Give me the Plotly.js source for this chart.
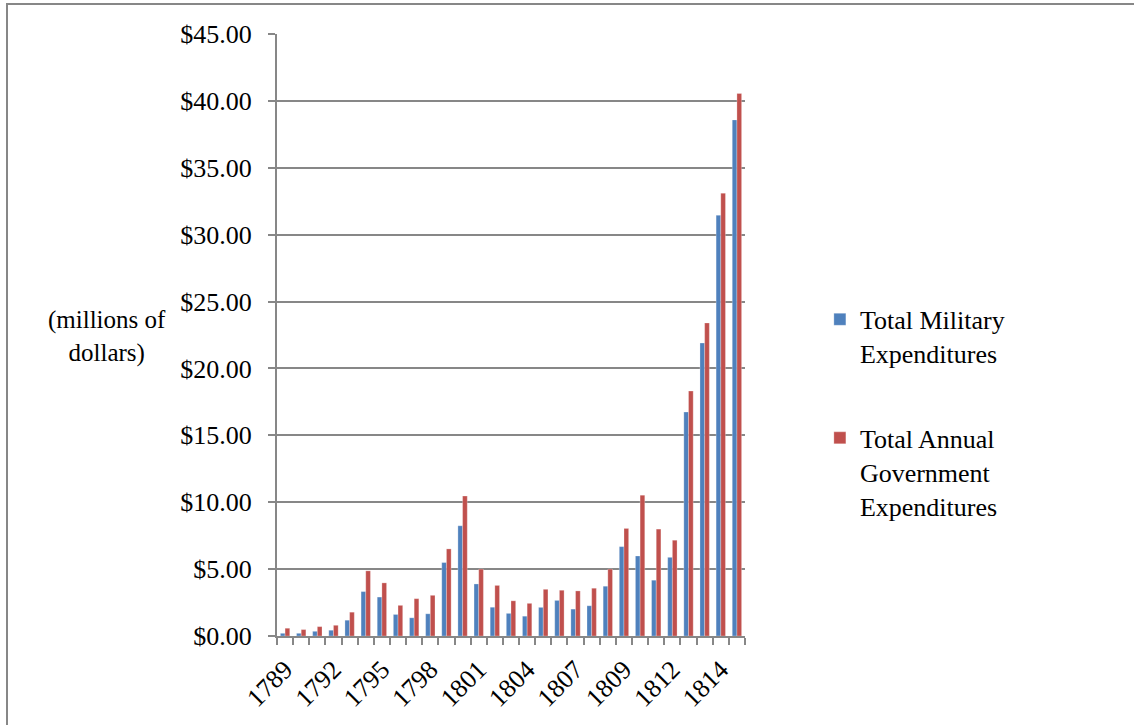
<!DOCTYPE html>
<html>
<head>
<meta charset="utf-8">
<script src="https://cdn.plot.ly/plotly-3.0.1.min.js"></script>
<style>
  html, body { margin: 0; padding: 0; background: #fff; overflow: hidden; }
  #chart { width: 1134px; height: 725px; position: absolute; left: 0; top: 0; }
  #frame { position: absolute; left: 6px; top: 3px; width: 1200px; height: 800px;
           border-top: 2px solid #878787; border-left: 2px solid #878787; pointer-events: none; }
</style>
</head>
<body>
<div id="chart"></div>
<div id="frame"></div>
<script>
// Fiscal periods, one per bar group (every third one is labelled on the axis)
const yearLabels = [
  '1789', '1790', '1791', '1792', '1793', '1794', '1795', '1796', '1797', '1798',
  '1799', '1800', '1801', '1802', '1803', '1804', '1805', '1806', '1807', '1808',
  '1808', '1809', '1810', '1811', '1812', '1813', '1814', '1814', '1815'
];

// Expenditures in millions of dollars
const militaryExpenditures = [
  0.20, 0.20, 0.35, 0.43, 1.18, 3.32, 2.91, 1.61, 1.36, 1.66,
  5.49, 8.24, 3.89, 2.15, 1.69, 1.48, 2.14, 2.66, 2.01, 2.26,
  3.72, 6.68, 5.98, 4.17, 5.88, 16.74, 21.90, 31.45, 38.58
];
const governmentExpenditures = [
  0.58, 0.48, 0.70, 0.80, 1.78, 4.87, 3.97, 2.29, 2.79, 3.04,
  6.51, 10.46, 5.00, 3.78, 2.63, 2.44, 3.49, 3.42, 3.37, 3.57,
  5.00, 8.04, 10.53, 7.99, 7.16, 18.31, 23.40, 33.10, 40.55
];

const seriesNames = ['Total Military<br>Expenditures', 'Total Annual<br>Government<br>Expenditures'];

const xIdx = yearLabels.map((_, i) => i);
const labelIdx = xIdx.filter(i => i % 3 === 0);
const labelText = labelIdx.map(i => yearLabels[i]);
const boundaries = yearLabels.map((_, i) => i - 0.5).concat([yearLabels.length - 0.5]);

const FONT = 'Liberation Serif, Times New Roman, serif';
const GRID = '#878787';

const traces = [
  {
    type: 'bar', name: seriesNames[0], x: xIdx, y: militaryExpenditures,
    marker: { color: '#4F81BD', line: { color: 'rgba(255,255,255,0.45)', width: 0.6 } },
    legendgroup: 'a'
  },
  {
    type: 'bar', name: seriesNames[1], x: xIdx, y: governmentExpenditures,
    marker: { color: '#C0504D', line: { color: 'rgba(255,255,255,0.45)', width: 0.6 } },
    legendgroup: 'b'
  }
];

const layout = {
  width: 1134, height: 725,
  margin: { l: 277, r: 389, t: 34, b: 89 },
  paper_bgcolor: '#fff', plot_bgcolor: '#fff',
  font: { family: FONT, size: 26, color: '#000' },
  barmode: 'group', bargap: 0.42, bargroupgap: 0,
  showlegend: true,
  legend: {
    x: 1.16, y: 0.565, xanchor: 'left', yanchor: 'top',
    valign: 'top', tracegroupgap: 48,
    font: { family: FONT, size: 26, color: '#000' },
    bgcolor: 'rgba(0,0,0,0)'
  },
  xaxis: {
    range: [-0.5, yearLabels.length - 0.5],
    tickmode: 'array', tickvals: labelIdx, ticktext: labelText,
    tickangle: -45, ticks: '', ticklabelstandoff: 6,
    showgrid: false, zeroline: false,
    showline: true, linecolor: GRID, linewidth: 2,
    minor: { tickmode: 'array', tickvals: boundaries, ticks: 'outside', ticklen: 7, tickcolor: GRID, tickwidth: 2, showgrid: false },
    tickfont: { family: FONT, size: 26 },
    fixedrange: true
  },
  yaxis: {
    range: [0, 45], dtick: 5, tickformat: '$.2f',
    ticks: 'outside', ticklen: 7, tickcolor: GRID, tickwidth: 2,
    ticklabelstandoff: 11,
    showgrid: true, gridcolor: GRID, gridwidth: 2,
    zeroline: false, showline: true, linecolor: GRID, linewidth: 2,
    tickfont: { family: FONT, size: 26 },
    fixedrange: true
  },
  annotations: [
    {
      xref: 'paper', yref: 'paper', x: -0.233, y: 0.497,
      xanchor: 'right', yanchor: 'middle', align: 'center',
      text: '(millions of<br>dollars)', showarrow: false,
      font: { family: FONT, size: 25, color: '#000' }
    }
  ]
};

Plotly.newPlot('chart', traces, layout, { staticPlot: true, displayModeBar: false });
</script>
</body>
</html>
